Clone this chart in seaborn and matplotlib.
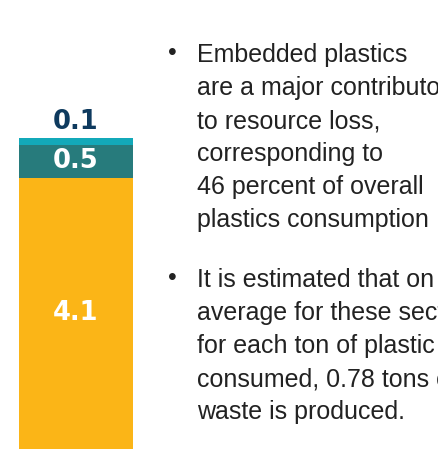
import pandas as pd
import numpy as np
import matplotlib
matplotlib.use('Agg')
import matplotlib.pyplot as plt
import seaborn as sns

# valores da barra empilhada (de baixo para cima)
segments = ['Bottom', 'Middle', 'Top']
values = [4.1, 0.5, 0.1]
labels = ['4.1', '0.5', '0.1']
colors = ['#FBB517', '#277B7C', '#13A9B9']

bullet1 = ['Embedded plastics', 'are a major contributor', 'to resource loss,',
           'corresponding to', '46 percent of overall', 'plastics consumption']
bullet2 = ['It is estimated that on', 'average for these sectors',
           'for each ton of plastic', 'consumed, 0.78 tons of', 'waste is produced.']

sns.set_style('white')
plt.rcParams['font.family'] = ['Liberation Sans', 'DejaVu Sans']

W, H = 438, 449
fig = plt.figure(figsize=(W / 100, H / 100), dpi=100)

# eixo so para a barra
ax = fig.add_axes([19 / W, 0, 114 / W, 1])
px_per_unit = 66.1
ax.set_ylim(0, H / px_per_unit)

df = pd.DataFrame({'seg': segments, 'val': values, 'x': ['bar'] * 3})
bottom = 0
for i, row in df.iterrows():
    sns.barplot(x=[row['x']], y=[row['val']], bottom=bottom, color=colors[i],
                width=1, ax=ax, saturation=1, linewidth=0)
    bottom += row['val']
ax.set_xlim(-0.5, 0.5)
ax.axis('off')

# rotulos
ax.text(0, values[0] / 2, labels[0], ha='center', va='center', color='white',
        fontsize=18.5, fontweight='bold', family='DejaVu Sans')
ax.text(0, values[0] + values[1] / 2, labels[1], ha='center', va='center', color='white',
        fontsize=18.5, fontweight='bold', family='DejaVu Sans')
ax.text(0, sum(values) + 0.24, labels[2], ha='center', va='center', color='#0E3A5E',
        fontsize=18.5, fontweight='bold', family='DejaVu Sans')

# texto com marcadores
def bullet_block(lines, y0, step=33):
    fig.text(172 / W, 1 - (y0 - 2) / H, '\u2022', ha='center', va='baseline',
             fontsize=18, color='#222222')
    for k, line in enumerate(lines):
        fig.text(197 / W, 1 - (y0 + k * step) / H, line, ha='left', va='baseline',
                 fontsize=18, color='#222222')

bullet_block(bullet1, 62)
bullet_block(bullet2, 287)

plt.savefig('out.png', dpi=100)
